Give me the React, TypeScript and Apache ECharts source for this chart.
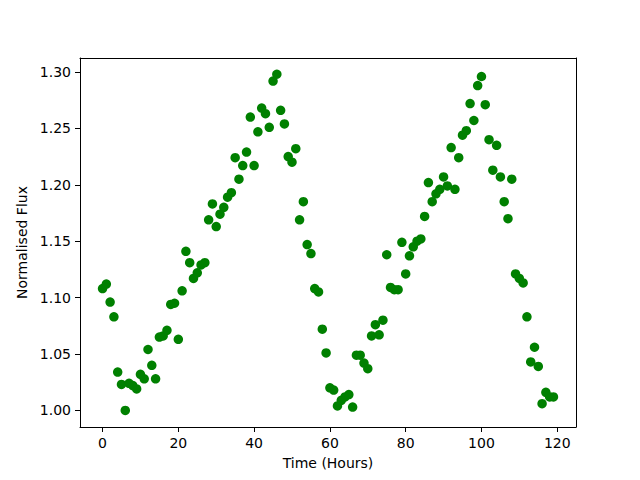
import React, { useEffect, useRef } from "react";
import * as echarts from "echarts";

const hours: number[] = Array.from({ length: 120 }, (_, i) => i);
const flux: number[] = [
  1.108, 1.112, 1.096, 1.083, 1.034, 1.023, 1.0, 1.024, 1.022, 1.019,
  1.032, 1.028, 1.054, 1.04, 1.028, 1.065, 1.066, 1.071, 1.094, 1.095,
  1.063, 1.106, 1.141, 1.131, 1.117, 1.122, 1.129, 1.131, 1.169, 1.183,
  1.163, 1.174, 1.18, 1.189, 1.193, 1.224, 1.205, 1.217, 1.229, 1.26,
  1.217, 1.247, 1.268, 1.263, 1.251, 1.292, 1.298, 1.266, 1.254, 1.225,
  1.22, 1.232, 1.169, 1.185, 1.147, 1.139, 1.108, 1.105, 1.072, 1.051,
  1.02, 1.018, 1.004, 1.009, 1.012, 1.014, 1.003, 1.049, 1.049, 1.042,
  1.037, 1.066, 1.076, 1.067, 1.08, 1.138, 1.109, 1.107, 1.107, 1.149,
  1.121, 1.137, 1.145, 1.15, 1.152, 1.172, 1.202, 1.185, 1.192, 1.196,
  1.207, 1.199, 1.233, 1.196, 1.224, 1.244, 1.248, 1.272, 1.257, 1.288,
  1.296, 1.271, 1.24, 1.213, 1.235, 1.207, 1.185, 1.17, 1.205, 1.121,
  1.117, 1.113, 1.083, 1.043, 1.056, 1.039, 1.006, 1.016, 1.012, 1.012,
];
const xTicks: number[] = [0, 20, 40, 60, 80, 100, 120];
const yTicks: number[] = [1.0, 1.05, 1.1, 1.15, 1.2, 1.25, 1.3];

const xMin = -5.95;
const xMax = 124.95;
const yMin = 0.9853;
const yMax = 1.3124;

const font = "DejaVu Sans";

export default function App() {
  const ref = useRef<HTMLDivElement>(null);
  useEffect(() => {
    if (!ref.current) return;
    const chart = echarts.init(ref.current, undefined, { renderer: "svg" });
    const lineStyle = { color: "#000", width: 1 };
    chart.setOption({
      animation: false,
      backgroundColor: "#fff",
      grid: { left: 80, right: 64, top: 58, bottom: 53, containLabel: false },
      xAxis: [
        {
          type: "value",
          min: xMin,
          max: xMax,
          name: "Time (Hours)",
          nameLocation: "middle",
          nameGap: 29,
          nameTextStyle: { color: "#000", fontSize: 14, fontFamily: font },
          axisLine: { show: true, onZero: false, lineStyle },
          axisTick: { show: true, inside: false, length: 5, lineStyle, customValues: xTicks },
          axisLabel: {
            color: "#000",
            fontSize: 14,
            fontFamily: font,
            margin: 9,
            customValues: xTicks,
            formatter: (v: number) => String(v),
          },
          splitLine: { show: false },
        },
        {
          type: "value",
          position: "top",
          min: xMin,
          max: xMax,
          axisLine: { show: true, onZero: false, lineStyle },
          axisTick: { show: false },
          axisLabel: { show: false },
          splitLine: { show: false },
        },
      ],
      yAxis: [
        {
          type: "value",
          min: yMin,
          max: yMax,
          name: "Normalised Flux",
          nameLocation: "middle",
          nameGap: 42,
          nameTextStyle: { color: "#000", fontSize: 14, fontFamily: font },
          axisLine: { show: true, onZero: false, lineStyle },
          axisTick: { show: true, inside: false, length: 5, lineStyle, customValues: yTicks },
          axisLabel: {
            color: "#000",
            fontSize: 14,
            fontFamily: font,
            margin: 9,
            customValues: yTicks,
            formatter: (v: number) => v.toFixed(2),
          },
          splitLine: { show: false },
        },
        {
          type: "value",
          position: "right",
          min: yMin,
          max: yMax,
          axisLine: { show: true, onZero: false, lineStyle },
          axisTick: { show: false },
          axisLabel: { show: false },
          splitLine: { show: false },
        },
      ],
      series: [
        {
          type: "scatter",
          xAxisIndex: 0,
          yAxisIndex: 0,
          data: hours.map((h, i) => [h, flux[i]]),
          symbol: "circle",
          symbolSize: 9.5,
          itemStyle: { color: "#008000", opacity: 1 },
        },
      ],
    });
    return () => chart.dispose();
  }, []);
  return <div ref={ref} style={{ width: 640, height: 480, margin: -8 }} />;
}
